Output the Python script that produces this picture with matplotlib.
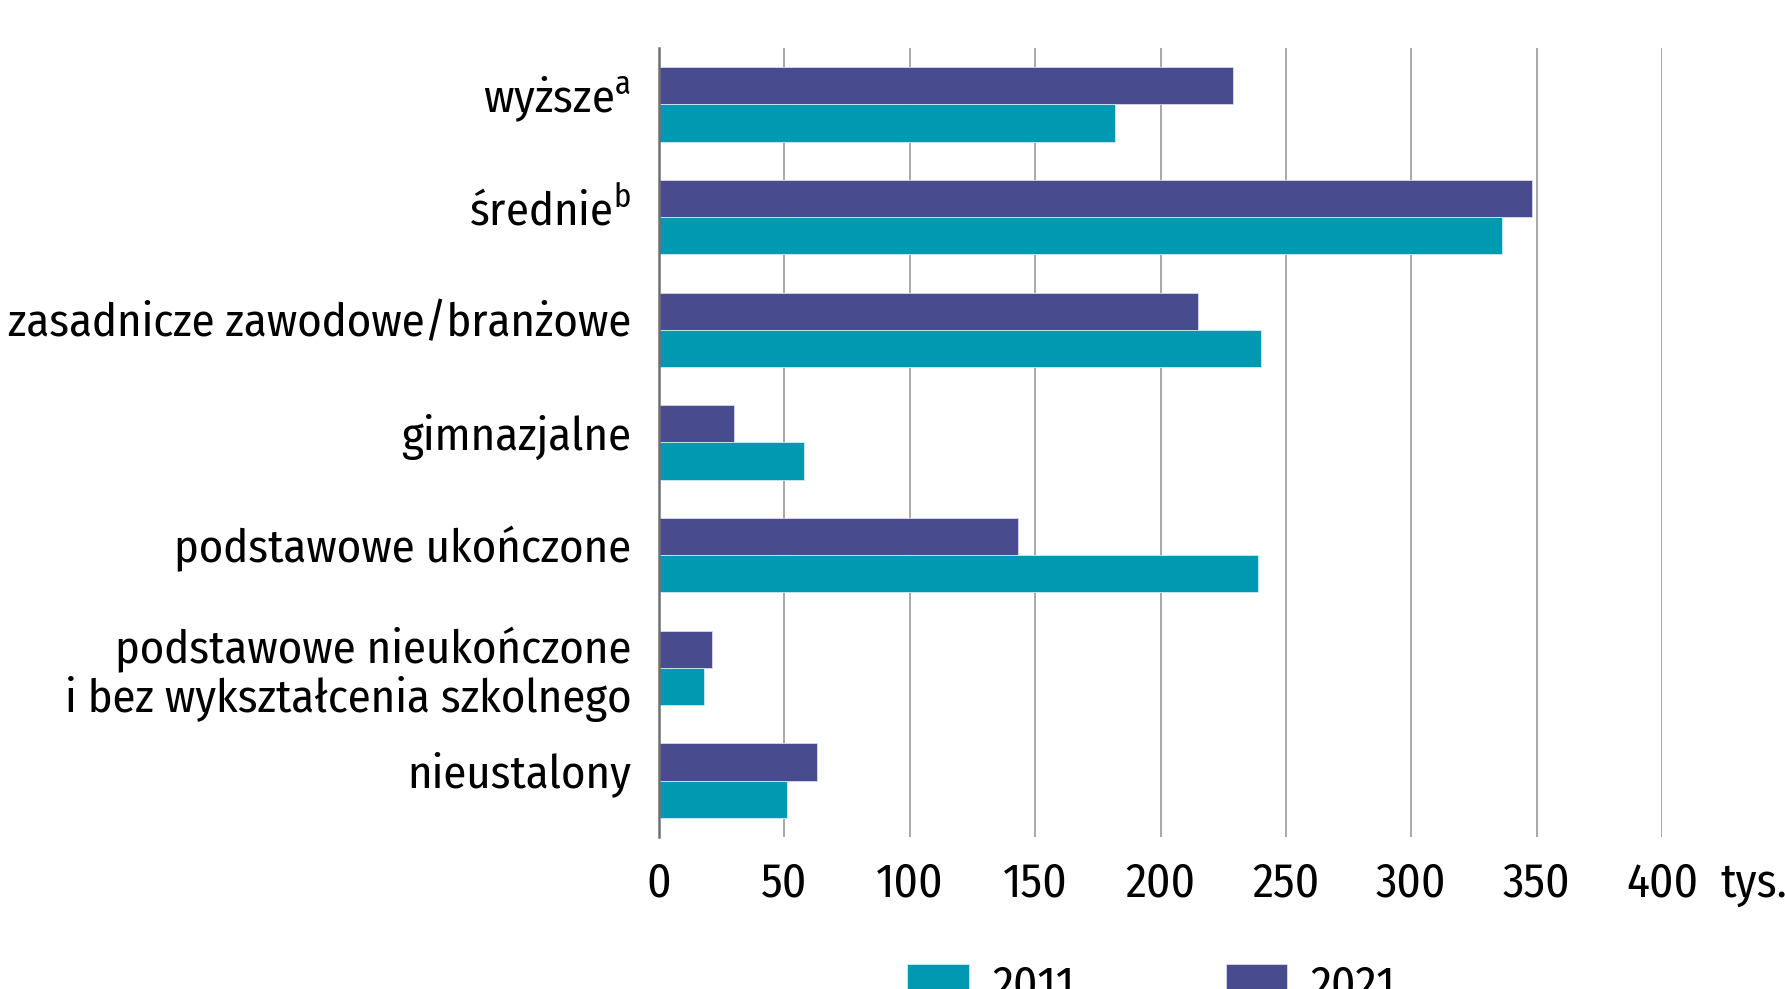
import matplotlib
matplotlib.use("Agg")
import matplotlib.pyplot as plt
import matplotlib.transforms as mtransforms
import numpy as np

plt.rcParams['font.family'] = ['Fira Sans Condensed', 'Barlow Semi Condensed', 'DejaVu Sans']
plt.rcParams['mathtext.fontset'] = 'custom'
plt.rcParams['mathtext.rm'] = 'Fira Sans Condensed'

categories = [
    'wyższe$^{\\mathrm{a}}$',
    'średnie$^{\\mathrm{b}}$',
    'zasadnicze zawodowe/branżowe',
    'gimnazjalne',
    'podstawowe ukończone',
    'podstawowe nieukończone\ni bez wykształcenia szkolnego',
    'nieustalony',
]
values_2011 = [182, 336, 240, 58, 239, 18, 51]
values_2021 = [229, 348, 215, 30, 143, 21, 63]
xticks = [0, 50, 100, 150, 200, 250, 300, 350, 400]

color_2011 = '#0099b1'
color_2021 = '#484c8e'
fs = 34

fig = plt.figure(figsize=(17.85, 9.89), dpi=100)
ax = fig.add_axes([0.3692, 0.1537, 0.9311 - 0.3692, 0.9515 - 0.1537])

y = np.arange(len(categories))
h = 0.33
ax.barh(y - h / 2, values_2021, height=h, color=color_2021,
        edgecolor='#d9daf0', linewidth=0.6, label='2021', zorder=3)
ax.barh(y + h / 2, values_2011, height=h, color=color_2011,
        edgecolor='#c8eef3', linewidth=0.6, label='2011', zorder=3)

ax.set_ylim(len(categories) - 0.5, -0.5)
ax.set_xlim(0, 400)
ax.set_xticks(xticks)
ax.set_yticks(y)
ax.set_yticklabels(categories, fontsize=33.6, linespacing=1.08)
ax.tick_params(axis='x', length=0, pad=17, labelsize=fs)
ax.tick_params(axis='y', length=0, pad=20)

# labels sit a little above the bar pair centre in the original
for lab in ax.get_yticklabels():
    dy = 0 if '\n' in lab.get_text() else 8
    lab.set_transform(lab.get_transform() +
                      mtransforms.ScaledTranslation(0, dy / 72, fig.dpi_scale_trans))

ax.grid(axis='x', color='#a8a8a8', linewidth=1.4, zorder=0)
for side in ['top', 'right', 'bottom']:
    ax.spines[side].set_visible(False)
ax.spines['left'].set_color('#707070')
ax.spines['left'].set_linewidth(1.8)
ax.spines['left'].set_zorder(4)

ax.annotate('tys.', xy=(1, 0), xycoords='axes fraction',
            xytext=(42, -17), textcoords='offset points',
            ha='left', va='top', fontsize=fs)

handles, labels = ax.get_legend_handles_labels()
fig.legend(handles[::-1], labels[::-1], loc='center', ncol=2,
           bbox_to_anchor=(0.645, 0.003), frameon=False, fontsize=fs,
           handlelength=1.3, handleheight=0.85, handletextpad=0.5,
           columnspacing=3.2)

fig.savefig('out.png', dpi=100)
